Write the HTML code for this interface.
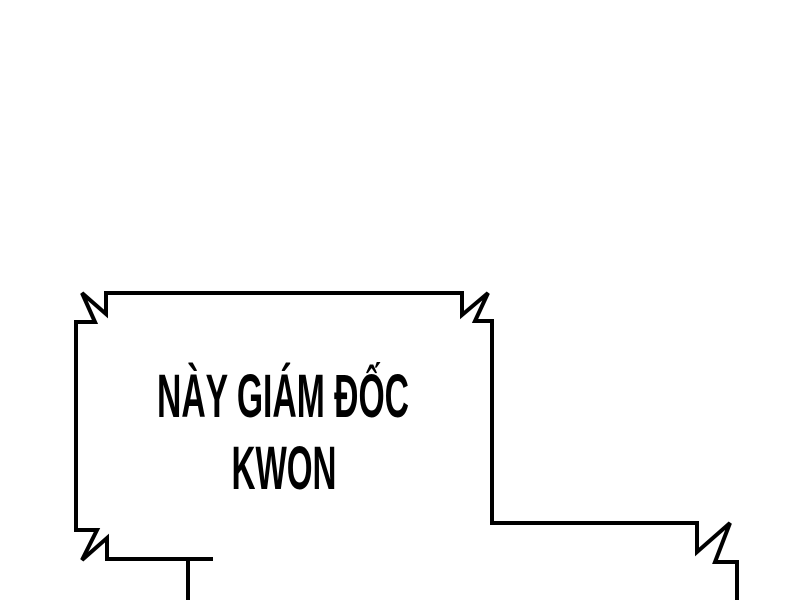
<!DOCTYPE html>
<html><head><meta charset="utf-8"><style>html,body{margin:0;padding:0;background:#fff;}svg{display:block}</style></head>
<body>
<svg width="800" height="600" viewBox="0 0 800 600" xmlns="http://www.w3.org/2000/svg">
<rect width="800" height="600" fill="#fff"/>
<path d="M213,559 L107,559 L107,538 L82,560 L97,530 L76,530 L76,322 L95,322 L82,293 L106,314 L106,293 L462,293 L462,315 L488,293 L475,321 L492,321 L492,523 L697,523 L697,552 L730,523 L715,562 L737,562 L737,600" fill="none" stroke="#000" stroke-width="4" stroke-linejoin="miter"/>
<path d="M188,560 L188,600" stroke="#000" stroke-width="4"/>
<text x="283" y="417" text-anchor="middle" font-family="'Liberation Sans Narrow','Liberation Sans',sans-serif" font-weight="bold" font-size="61" textLength="252" lengthAdjust="spacingAndGlyphs">NÀY GIÁM ĐỐC</text>
<text x="284" y="489" text-anchor="middle" font-family="'Liberation Sans Narrow','Liberation Sans',sans-serif" font-weight="bold" font-size="61" textLength="105" lengthAdjust="spacingAndGlyphs">KWON</text>
</svg>
</body></html>
